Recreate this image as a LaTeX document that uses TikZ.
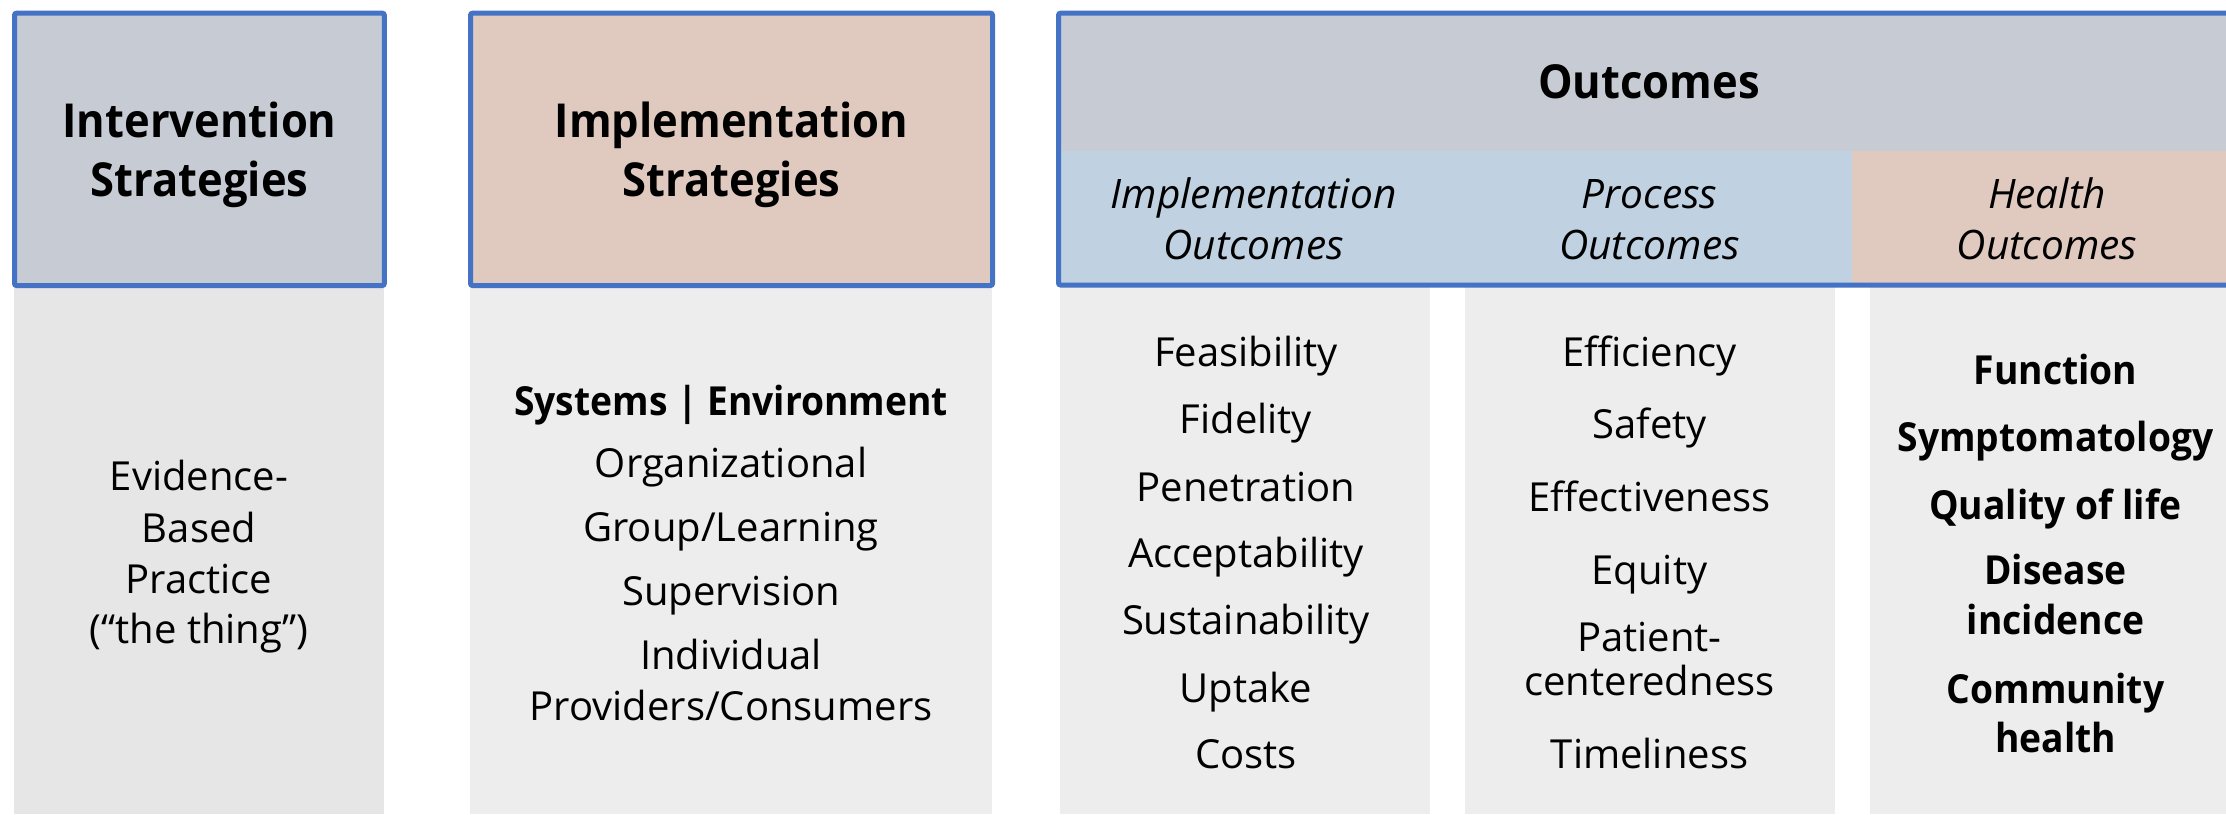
\documentclass[tikz,border=0pt]{standalone}
\usepackage{fontspec}
\setmainfont{Open Sans}[BoldFeatures={FakeStretch=0.93}]
\definecolor{bordblue}{HTML}{4472C4}
\definecolor{hdrgray}{HTML}{C6CBD4}
\definecolor{hdrrose}{HTML}{E0CAC0}
\definecolor{subblue}{HTML}{C0D1E1}
\definecolor{colA}{HTML}{E6E6E6}
\definecolor{colB}{HTML}{EDEDED}
\begin{document}
\begin{tikzpicture}[x=0.5pt,y=-0.5pt,
  hdrbox/.style={draw=bordblue,line width=2.5pt,rounded corners=1pt},
  headtxt/.style={anchor=base,inner sep=0pt,font=\fontsize{23.4}{28}\selectfont\bfseries},
  subtxt/.style={anchor=base,inner sep=0pt,font=\fontsize{20.3}{25}\selectfont\itshape},
  itemtxt/.style={anchor=base,inner sep=0pt,font=\fontsize{20}{24}\selectfont},
  bitemtxt/.style={anchor=base,inner sep=0pt,font=\fontsize{20}{24}\selectfont\bfseries}]
\useasboundingbox (0,0) rectangle (2226,814);
\clip (0,0) rectangle (2226,814);
% columns
\fill[colA] (14,287) rectangle (384,814);
\fill[colB] (470,287) rectangle (992,814);
\fill[colB] (1060,287) rectangle (1430,814);
\fill[colB] (1465,287) rectangle (1835,814);
\fill[colB] (1870,287) rectangle (2240,814);
% header boxes
\draw[hdrbox,fill=hdrgray] (14.5,13.2) rectangle (384.3,285.5);
\draw[hdrbox,fill=hdrrose] (470.5,13.2) rectangle (992.5,285.5);
\fill[hdrgray] (1058.5,13.2) rectangle (2240,151);
\fill[subblue] (1058.5,151) rectangle (1852,285);
\fill[hdrrose] (1852,151) rectangle (2240,285);
\draw[hdrbox] (1058.5,13.2) rectangle (2240,285);
% header texts
\node[headtxt] (int1) at (199.5,137.7) {Intervention};
\node[headtxt] (int2) at (199.5,196) {Strategies};
\node[headtxt] (imp1) at (731.5,137.7) {Implementation};
\node[headtxt] (imp2) at (731.5,196) {Strategies};
\node[headtxt] (out) at (1649,98.6) {Outcomes};
\node[subtxt] (io1) at (1253.6,208) {Implementation};
\node[subtxt] (io2) at (1253.6,259) {Outcomes};
\node[subtxt] (po1) at (1649.5,208) {Process};
\node[subtxt] (po2) at (1649.5,259) {Outcomes};
\node[subtxt] (ho1) at (2047,208) {Health};
\node[subtxt] (ho2) at (2047,259) {Outcomes};
% intervention column
\node[itemtxt] (e1) at (199,490.6) {Evidence-};
\node[itemtxt] (e2) at (199,542.6) {Based};
\node[itemtxt] (e3) at (199,593.5) {Practice};
\node[itemtxt] (e4) at (199,643.8) {(“the thing”)};
% implementation column
\node[bitemtxt] (s1) at (731,415.4) {Systems | Environment};
\node[itemtxt] (s2) at (731,477.7) {Organizational};
\node[itemtxt] (s3) at (731,541.5) {Group/Learning};
\node[itemtxt] (s4) at (731,605.9) {Supervision};
\node[itemtxt] (s5) at (731,669.8) {Individual};
\node[itemtxt] (s6) at (731,720.1) {Providers/Consumers};
% implementation outcomes
\node[itemtxt] (a1) at (1246,366) {Feasibility};
\node[itemtxt] (a2) at (1246,433.5) {Fidelity};
\node[itemtxt] (a3) at (1246,501) {Penetration};
\node[itemtxt] (a4) at (1246,567.5) {Acceptability};
\node[itemtxt] (a5) at (1246,634.5) {Sustainability};
\node[itemtxt] (a6) at (1246,702.5) {Uptake};
\node[itemtxt] (a7) at (1246,768.4) {Costs};
% process outcomes
\node[itemtxt] (p1) at (1649.5,366) {Efficiency};
\node[itemtxt] (p2) at (1649.5,438.7) {Safety};
\node[itemtxt] (p3) at (1649.5,511.4) {Effectiveness};
\node[itemtxt] (p4) at (1649.5,584) {Equity};
\node[itemtxt] (p5) at (1649.5,651.6) {Patient-};
\node[itemtxt] (p6) at (1649.5,695.7) {centeredness};
\node[itemtxt] (p7) at (1649.5,768.4) {Timeliness};
% health outcomes
\node[bitemtxt] (h1) at (2055.5,384.2) {Function};
\node[bitemtxt] (h2) at (2055.5,451.7) {Symptomatology};
\node[bitemtxt] (h3) at (2055.5,519.2) {Quality of life};
\node[bitemtxt] (h4) at (2055.5,584) {Disease};
\node[bitemtxt] (h5) at (2055.5,634.5) {incidence};
\node[bitemtxt] (h6) at (2055.5,703.5) {Community};
\node[bitemtxt] (h7) at (2055.5,752.9) {health};
\end{tikzpicture}
\end{document}
